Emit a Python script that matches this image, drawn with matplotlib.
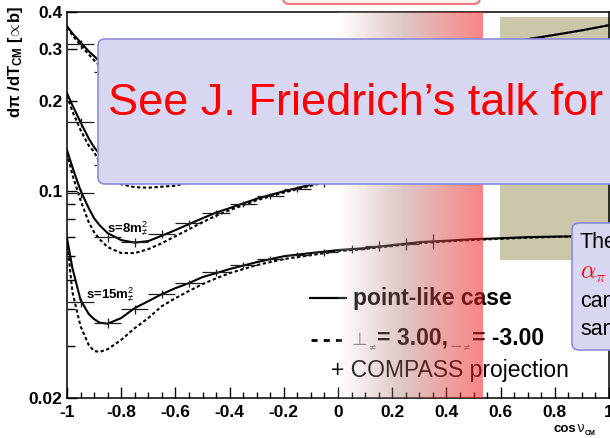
import numpy as np
import matplotlib
matplotlib.use('Agg')
import matplotlib.pyplot as plt
from matplotlib.patches import Rectangle, FancyBboxPatch
from matplotlib.lines import Line2D
from matplotlib.transforms import IdentityTransform
from matplotlib.ticker import NullFormatter

plt.rcParams['font.family'] = ['Liberation Sans', 'DejaVu Sans']
plt.rcParams['mathtext.fontset'] = 'custom'
plt.rcParams['mathtext.rm'] = 'Liberation Sans'
plt.rcParams['mathtext.bf'] = 'Liberation Sans:bold'
plt.rcParams['mathtext.it'] = 'Liberation Sans:italic'

# ---- cross sections vs cos(theta_cm), point-like (solid) and polarisability (dashed)
cos_grid = [-1.0, -0.98, -0.95, -0.92, -0.90, -0.88, -0.85, -0.80, -0.75, -0.70,
            -0.65, -0.60, -0.55, -0.50, -0.45, -0.40, -0.30, -0.20, -0.10, 0.0,
            0.1, 0.2, 0.3, 0.4, 0.5, 0.6, 0.7, 0.8, 0.9, 1.0]

top_point = [0.358, 0.339, 0.316, 0.295, 0.284, 0.273, 0.258, 0.239, 0.225, 0.216,
             0.211, 0.208, 0.206, 0.206, 0.208, 0.211, 0.220, 0.230, 0.241, 0.252,
             0.262, 0.273, 0.284, 0.292, 0.302, 0.311, 0.324, 0.335, 0.347, 0.361]
top_pol = [0.355, 0.334, 0.309, 0.288, 0.275, 0.264, 0.250, 0.230, 0.216, 0.208,
           0.205, 0.202, 0.201, 0.202, 0.205, 0.209, 0.218, 0.228, 0.239, 0.250,
           0.261, 0.272, 0.283, 0.291, 0.301, 0.311, 0.323, 0.335, 0.347, 0.361]

mid_point = [0.213, 0.194, 0.170, 0.150, 0.140, 0.133, 0.124, 0.115, 0.112, 0.112,
             0.114, 0.118, 0.122, 0.127, 0.131, 0.135, 0.143, 0.151, 0.160, 0.167,
             0.175, 0.182, 0.189, 0.195, 0.202, 0.208, 0.213, 0.218, 0.223, 0.226]
mid_pol = [0.209, 0.185, 0.160, 0.142, 0.135, 0.1246, 0.1118, 0.1051, 0.1027, 0.1023,
           0.1031, 0.1039, 0.1067, 0.1101, 0.1144, 0.119, 0.1286, 0.1389, 0.1478, 0.1573,
           0.166, 0.175, 0.183, 0.190, 0.197, 0.204, 0.210, 0.215, 0.220, 0.224]

s8_point = [0.137, 0.120, 0.100, 0.0873, 0.0807, 0.0765, 0.0719, 0.0681, 0.0668, 0.0676,
            0.0705, 0.0736, 0.0771, 0.0807, 0.0843, 0.0873, 0.0939, 0.0995, 0.1047, 0.110,
            0.115, 0.120, 0.125, 0.130, 0.134, 0.138, 0.141, 0.144, 0.148, 0.150]
s8_pol = [0.134, 0.113, 0.0928, 0.0783, 0.0724, 0.0686, 0.0645, 0.0616, 0.0616, 0.0635,
          0.0665, 0.0702, 0.0741, 0.0783, 0.0823, 0.0859, 0.0928, 0.0985, 0.1039, 0.1092,
          0.114, 0.119, 0.124, 0.129, 0.133, 0.137, 0.140, 0.143, 0.147, 0.149]

s15_point = [0.0691, 0.0548, 0.0428, 0.0384, 0.0369, 0.0359, 0.0356, 0.0372, 0.0402, 0.0424,
             0.0448, 0.0469, 0.0488, 0.0511, 0.0527, 0.0544, 0.0574, 0.0601, 0.0616, 0.0630,
             0.0640, 0.0655, 0.0670, 0.0678, 0.0686, 0.0691, 0.0697, 0.0700, 0.0702, 0.0708]
s15_pol = [0.0681, 0.0455, 0.0349, 0.0302, 0.0288, 0.0286, 0.0292, 0.0314, 0.0344, 0.0372,
           0.0408, 0.0434, 0.0459, 0.0484, 0.0506, 0.0527, 0.0561, 0.0588, 0.0606, 0.0625,
           0.0636, 0.0651, 0.0665, 0.0674, 0.0682, 0.0688, 0.0694, 0.0698, 0.0701, 0.0706]

# ---- COMPASS projection points (bin centres, half width 0.05)
proj_bins = [-0.95, -0.85, -0.75, -0.65, -0.55, -0.45, -0.35, -0.25, -0.15, -0.05,
             0.05, 0.15, 0.25, 0.35]
proj_top = [0.311, 0.252, 0.226, 0.213, 0.208, 0.207, 0.210, 0.216, 0.225, 0.236,
            0.247, 0.257, 0.268, 0.278]
proj_mid = [0.170, 0.122, 0.113, 0.113, 0.116, 0.121, 0.128, 0.135, 0.143, 0.151,
            0.159, 0.167, 0.174, 0.181]
proj_s8 = [0.0980, 0.0697, 0.0670, 0.0713, 0.0777, 0.0839, 0.0900, 0.0958, 0.1011, 0.1059,
           0.1118, 0.1172, 0.1218, 0.1266]
proj_s15 = [0.0421, 0.0358, 0.0399, 0.0448, 0.0488, 0.0531, 0.0561, 0.0588, 0.0606, 0.0620,
            0.0635, 0.0650, 0.0663, 0.0676]
proj_relerr = [0.035, 0.04, 0.035, 0.03, 0.028, 0.026, 0.025, 0.025, 0.025, 0.028,
               0.032, 0.038, 0.045, 0.06]

xtick_vals = [-1, -0.8, -0.6, -0.4, -0.2, 0, 0.2, 0.4, 0.6, 0.8, 1]
xtick_labels = ['-1', '-0.8', '-0.6', '-0.4', '-0.2', '0', '0.2', '0.4', '0.6', '0.8', '1']
ytick_vals = [0.02, 0.1, 0.2, 0.3, 0.4]
ytick_labels = ['0.02', '0.1', '0.2', '0.3', '0.4']
yminor_vals = [0.03, 0.04, 0.05, 0.06, 0.07, 0.08, 0.09]

W, H = 610, 438
PIX = IdentityTransform()


def P(px, py):
    # pixel position measured from the top-left corner -> display coords
    return px, H - py


fig = plt.figure(figsize=(W / 100, H / 100), dpi=100)
ax = fig.add_axes([67 / W, 1 - 398 / H, (609 - 67) / W, (398 - 12) / H])
ax.set_yscale('log')

for yp, yd in [(top_point, top_pol), (mid_point, mid_pol),
               (s8_point, s8_pol), (s15_point, s15_pol)]:
    ax.plot(cos_grid, yp, color='k', lw=1.5, zorder=2)
    ax.plot(cos_grid, yd, color='k', lw=1.5, ls=(0, (1.6, 1.2)), zorder=2)

err = np.array(proj_relerr)
for yv in [proj_top, proj_mid, proj_s8, proj_s15]:
    yv = np.array(yv)
    ax.errorbar(proj_bins, yv, xerr=0.05, yerr=yv * err, fmt='none',
                ecolor='#1e1e1e', elinewidth=0.9, capsize=0, zorder=3)

ax.text(-0.852, 0.0724, 's=8m$^{2}_{≠}$', fontsize=9.5, fontweight='bold', zorder=4)
ax.text(-0.93, 0.0434, 's=15m$^{2}_{≠}$', fontsize=9.5, fontweight='bold', zorder=4)

ax.set_xlim(-1, 1)
ax.set_ylim(0.02, 0.4)
ax.set_xticks(xtick_vals, xtick_labels)
ax.set_xticks(np.arange(-1, 1.001, 0.05), minor=True)
ax.set_yticks(ytick_vals, ytick_labels)
ax.set_yticks(yminor_vals, minor=True)
ax.yaxis.set_minor_formatter(NullFormatter())
ax.tick_params(which='both', direction='in', top=False, right=False, width=1)
ax.tick_params(axis='x', which='major', length=8, pad=5, labelsize=12.5)
ax.tick_params(axis='x', which='minor', length=4)
ax.tick_params(axis='y', which='major', length=7, pad=3.5, labelsize=12.5)
ax.tick_params(axis='y', which='minor', length=6)
for lbl in ax.get_xticklabels() + ax.get_yticklabels():
    lbl.set_fontweight('bold')
for sp in ax.spines.values():
    sp.set_linewidth(1.1)

# beige panel behind the curves on the right
ax.add_patch(Rectangle(P(500, 260), 130, 243, transform=PIX, facecolor='#cbc7aa',
                       edgecolor='none', zorder=0.5, clip_on=False))

# legend block
ax.add_artist(Line2D([310, 346], [H - 298, H - 298], transform=PIX, color='k', lw=1.6))
ax.add_artist(Line2D([311, 346], [H - 340, H - 340], transform=PIX, color='k', lw=2,
                     ls=(0, (2.2, 2.2))))
ax.text(*P(353, 305), 'point-like case', transform=PIX, fontsize=16.5, fontweight='bold')
ax.text(*P(351, 345), '⊥', transform=PIX, fontsize=13, color='#808080', family='DejaVu Sans')
ax.text(*P(368, 350), '≠', transform=PIX, fontsize=6.5, color='#808080', family='DejaVu Sans')
ax.text(*P(377, 345), '= 3.00,', transform=PIX, fontsize=16.5, fontweight='bold')
ax.text(*P(449, 351), '−', transform=PIX, fontsize=11, color='#808080', family='DejaVu Sans')
ax.text(*P(462, 350), '≠', transform=PIX, fontsize=6.5, color='#808080', family='DejaVu Sans')
ax.text(*P(472, 345), '= -3.00', transform=PIX, fontsize=16.5, fontweight='bold')
ax.text(*P(331, 377), '+ COMPASS projection', transform=PIX, fontsize=16.5)

# axis titles
fig.text(*P(16, 62), r'$\mathbf{d\pi\ /dT_{CM}\ [\!\propto\!b]}$', transform=PIX,
         rotation=90, ha='center', va='center', fontsize=12)
fig.text(*P(553, 432), 'cos', transform=PIX, fontsize=9.5, fontweight='bold')
fig.text(*P(576, 432), 'ν', transform=PIX, fontsize=10, color='#222222', family='DejaVu Sans')
fig.text(*P(585, 435), 'CM', transform=PIX, fontsize=5, fontweight='bold')

# red fade over the central region
gax = fig.add_axes([338 / W, 1 - 398 / H, (483 - 338) / W, (398 - 12) / H], zorder=1)
gax.axis('off')
gax.patch.set_visible(False)
t = np.linspace(0, 1, 256)
stop_pos = [0.0, 0.45, 1.0]
stop_rgb = [(1.0, 1.0, 1.0), (0.87, 0.78, 0.78), (0.98, 0.52, 0.52)]
stop_alpha = [0.15, 0.4, 0.55]
alpha = np.interp(t, stop_pos, stop_alpha)
img = np.ones((1, t.size, 4))
for c in range(3):
    target = np.interp(t, stop_pos, [s[c] for s in stop_rgb])
    img[0, :, c] = np.clip((target - (1 - alpha)) / alpha, 0, 1)
img[0, :, 3] = alpha
gax.imshow(img, aspect='auto', extent=(0, 1, 0, 1), interpolation='bilinear')
gax.set_xlim(0, 1)
gax.set_ylim(0, 1)

# slide boxes on top
fig.add_artist(FancyBboxPatch(P(283, 4), 197, 30, boxstyle='round,pad=0,rounding_size=6',
                              transform=PIX, facecolor='#fff0f0', edgecolor='#f07878',
                              lw=1.5, zorder=5))
fig.add_artist(FancyBboxPatch(P(98, 184), 560, 145, boxstyle='round,pad=0,rounding_size=7',
                              transform=PIX, facecolor='#d7d7f1', edgecolor='#8c8cdc',
                              lw=1.2, zorder=5))
fig.add_artist(FancyBboxPatch(P(572, 350), 100, 127, boxstyle='round,pad=0,rounding_size=7',
                              transform=PIX, facecolor='#d7d7f1', edgecolor='#8c8cdc',
                              lw=1.2, zorder=5))
fig.text(*P(108, 115), 'See J. Friedrich’s talk for', transform=PIX, fontsize=32.5,
         color='#ff0000', zorder=6)
fig.text(*P(580, 248), 'The', transform=PIX, fontsize=15.5, zorder=6)
fig.text(*P(580, 278), r'$\alpha_\pi$', transform=PIX, fontsize=17, color='#ff0000',
         math_fontfamily='cm', zorder=6)
fig.text(*P(580, 307), 'can', transform=PIX, fontsize=15.5, zorder=6)
fig.text(*P(580, 335), 'sam', transform=PIX, fontsize=15.5, zorder=6)

fig.savefig('out.png', dpi=100)
